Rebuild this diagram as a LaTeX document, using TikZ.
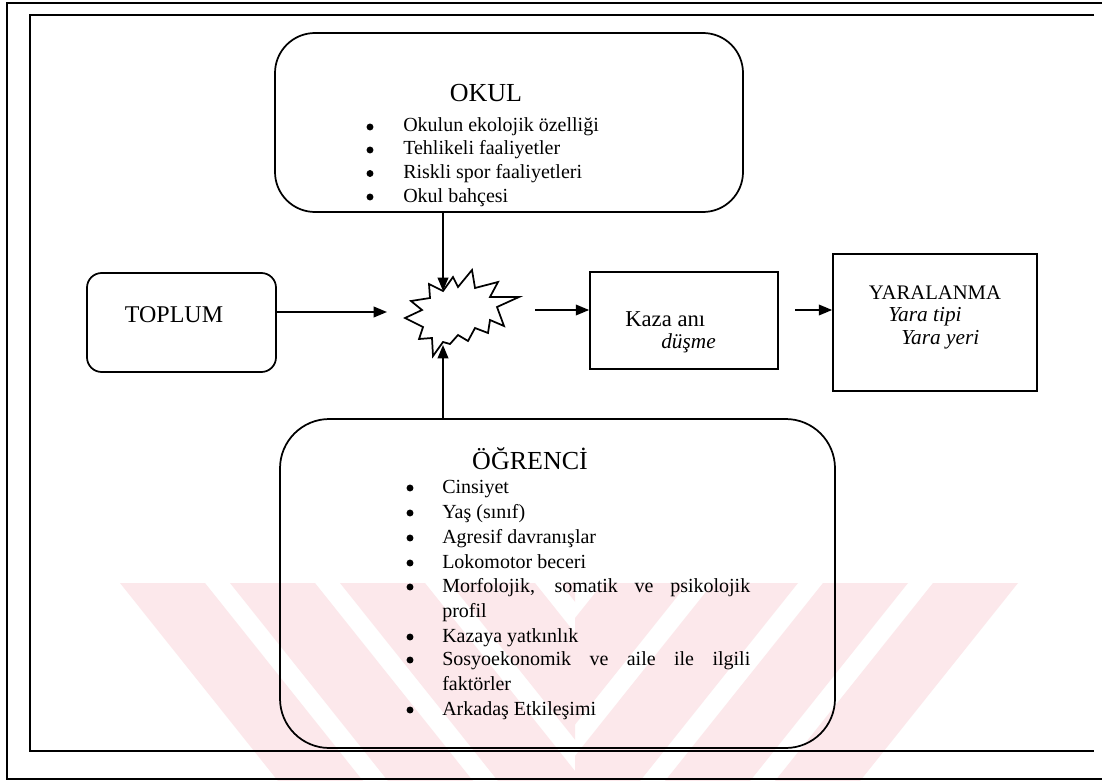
\documentclass[tikz,border=0pt]{standalone}
\usepackage{fontspec}
\setmainfont{Liberation Serif}
\usetikzlibrary{arrows.meta,fit}
\definecolor{wmpink}{HTML}{FCE8EB}
\tikzset{
  frameline/.style={line width=1.4pt},
  boxline/.style={draw, line width=1.3pt, inner sep=0pt},
  burstline/.style={line width=1.3pt, line join=miter},
  conn/.style={line width=1.2pt, -{Triangle[length=10pt,width=8pt]}},
  listtext/.style={anchor=base west, inner sep=0pt, font=\fontsize{15}{18}\selectfont},
  titletext/.style={anchor=base, inner sep=0pt, font=\fontsize{19.5}{23}\selectfont},
  plaintext/.style={anchor=base west, inner sep=0pt},
  bul/.style={circle, fill, inner sep=0pt, minimum size=5.2pt},
  wm/.style={fill=wmpink, draw=none}
}
\begin{document}
\begin{tikzpicture}[x=0.75pt,y=-0.75pt]
\useasboundingbox (0,0) rectangle (1102,781);
\fill[white] (0,0) rectangle (1102,781);

% watermark
\begin{scope}
  \clip (0,583) rectangle (575,781);
  \foreach \k in {0,...,4}{
    \fill[wm] ({120+110*\k},583) -- ({205+110*\k},583) -- ({367+110*\k},786) -- ({282+110*\k},786) -- cycle;
  }
\end{scope}
\begin{scope}
  \clip (575,583) rectangle (1102,781);
  \foreach \k in {0,...,4}{
    \fill[wm] ({1018-110*\k},583) -- ({933-110*\k},583) -- ({771-110*\k},786) -- ({856-110*\k},786) -- cycle;
  }
\end{scope}

% frames
\draw[frameline] (1102,3) -- (7,3) -- (7,779) -- (1102,779);
\draw[frameline] (1094,15) -- (30,15) -- (30,751) -- (1094,751);

% boxes
\node[boxline, rounded corners=30pt, fit={(275,33) (743,212)}] (okul) {};
\node[boxline, rounded corners=11pt, fit={(87,273) (276,372)}] (toplum) {};
\node[boxline, fit={(590,272) (778,369)}] (kaza) {};
\node[boxline, fit={(833,254) (1037,391)}] (yara) {};
\node[boxline, rounded corners=37pt, fit={(280,419) (835,748)}] (ogr) {};

% starburst
\draw[burstline] (443,291) -- (453,277) -- (458,287) -- (472,270) -- (475,288)
  -- (498,282) -- (490,297) -- (519,297) -- (497,307) -- (504,326) -- (490,320)
  -- (488,333) -- (475,328) -- (468,341) -- (458,335) -- (450,344) -- (443,342)
  -- (433,356) -- (432,338) -- (419,339) -- (423,327) -- (405,318) -- (422,310)
  -- (411,301) -- (430,298) -- (429,284) -- cycle;
\coordinate (burstN) at (443,291);
\coordinate (burstS) at (443,345);
\coordinate (burstW) at (387,312);
\coordinate (burstE) at (535,310);
\coordinate (kazaE) at (795,310);

% connectors
\draw[conn] (okul.south -| burstN) -- (burstN);
\draw[conn] (ogr.north -| burstS) -- (burstS);
\draw[conn] (toplum.east |- burstW) -- (burstW);
\draw[conn] (burstE) -- (kaza.west |- burstE);
\draw[conn] (kazaE) -- (yara.west |- kazaE);

% OKUL text
\node[titletext] (okulT) at (486,102) {OKUL};
\foreach \y/\t [count=\i] in {132/Okulun ekolojik özelliği, 155/Tehlikeli faaliyetler, 178.5/Riskli spor faaliyetleri, 202/Okul bahçesi}{
  \node[bul] (okb\i) at (370,\y-5) {};
  \node[listtext] (okt\i) at (403,\y) {\t};
}

% TOPLUM
\node[anchor=base, inner sep=0pt, font=\fontsize{18}{21}\selectfont] (toplumT) at (174,322) {TOPLUM};

% Kaza
\node[plaintext, font=\fontsize{17}{20}\selectfont] (kazaT) at (625,326) {Kaza anı};
\node[plaintext, font=\fontsize{16}{19}\selectfont\itshape] (kazaS) at (661,348) {düşme};

% Yaralanma
\node[anchor=base, inner sep=0pt, font=\fontsize{15.5}{19}\selectfont] (yaraT) at (935,299) {YARALANMA};
\node[plaintext, font=\fontsize{16}{19}\selectfont\itshape] (yaraA) at (888,321) {Yara tipi};
\node[plaintext, font=\fontsize{16}{19}\selectfont\itshape] (yaraB) at (901,344) {Yara yeri};

% OGRENCI text
\node[titletext] (ogrT) at (530,469) {ÖĞRENCİ};
\node[bul] (ob1) at (410,488) {};
\node[listtext] (ot1) at (442,493) {Cinsiyet};
\node[bul] (ob2) at (410,513) {};
\node[listtext] (ot2) at (442,518) {Yaş (sınıf)};
\node[bul] (ob3) at (410,538) {};
\node[listtext] (ot3) at (442,543) {Agresif davranışlar};
\node[bul] (ob4) at (410,563) {};
\node[listtext] (ot4) at (442,568) {Lokomotor beceri};
\node[bul] (ob5) at (410,587) {};
\node[listtext] (ot5) at (442,592) {\makebox[231pt][s]{Morfolojik, somatik ve psikolojik}};
\node[listtext] (ot5b) at (442,617) {profil};
\node[bul] (ob6) at (410,637) {};
\node[listtext] (ot6) at (442,642) {Kazaya yatkınlık};
\node[bul] (ob7) at (410,660) {};
\node[listtext] (ot7) at (442,665) {\makebox[231pt][s]{Sosyoekonomik ve aile ile ilgili}};
\node[listtext] (ot7b) at (442,690) {faktörler};
\node[bul] (ob8) at (410,710) {};
\node[listtext] (ot8) at (442,715) {Arkadaş Etkileşimi};
\end{tikzpicture}
\end{document}
